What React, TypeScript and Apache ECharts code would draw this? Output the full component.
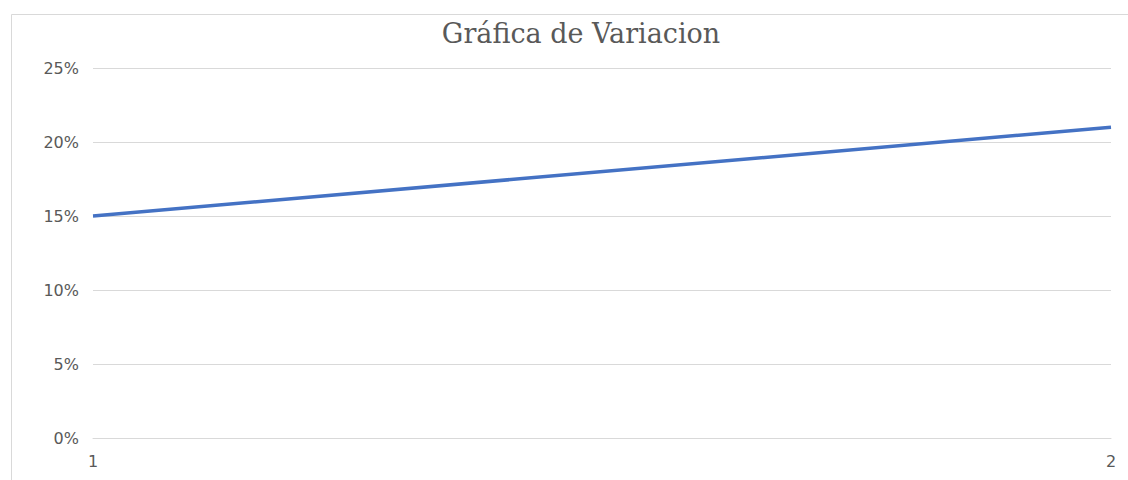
import React, { useEffect, useRef } from "react";
import * as echarts from "echarts";

const categories = ["1", "2"];
const variacion = [0.15, 0.21];
const yMin = 0;
const yMax = 0.25;
const yStep = 0.05;
const titleText = "Gráfica de Variacion";

export default function App() {
  const ref = useRef<HTMLDivElement>(null);
  useEffect(() => {
    if (!ref.current) return;
    const chart = echarts.init(ref.current, null, { renderer: "svg" });
    chart.setOption({
      animation: false,
      backgroundColor: "#ffffff",
      title: {
        text: titleText,
        left: 576,
        textAlign: "center",
        top: 15,
        textStyle: {
          fontFamily: "DejaVu Serif",
          fontSize: 27,
          fontWeight: "normal",
          color: "#595959",
        },
      },
      graphic: [
        {
          type: "rect",
          shape: { x: 11.5, y: 14.5, width: 1200, height: 500 },
          style: { fill: "none", stroke: "#d9d9d9", lineWidth: 1 },
          silent: true,
        },
      ],
      grid: { left: 93, right: 17, top: 68, bottom: 42, containLabel: false },
      xAxis: {
        type: "category",
        data: categories,
        boundaryGap: false,
        axisLine: { show: true, lineStyle: { color: "#d9d9d9", width: 1 } },
        axisTick: { show: false },
        axisLabel: {
          color: "#595959",
          fontFamily: "DejaVu Sans",
          fontSize: 16,
          margin: 15,
        },
      },
      yAxis: {
        type: "value",
        min: yMin,
        max: yMax,
        interval: yStep,
        axisLine: { show: false },
        axisTick: { show: false },
        splitLine: { lineStyle: { color: "#d9d9d9", width: 1 } },
        axisLabel: {
          color: "#595959",
          fontFamily: "DejaVu Sans",
          fontSize: 16,
          margin: 14,
          padding: [5, 0, 0, 0],
          formatter: (v: number) => `${Math.round(v * 100)}%`,
        },
      },
      series: [
        {
          type: "line",
          data: variacion,
          symbol: "none",
          lineStyle: { color: "#4472C4", width: 3.5 },
        },
      ],
    });
    return () => chart.dispose();
  }, []);
  return (
    <div
      ref={ref}
      style={{ position: "fixed", left: 0, top: 0, width: 1128, height: 480 }}
    />
  );
}
